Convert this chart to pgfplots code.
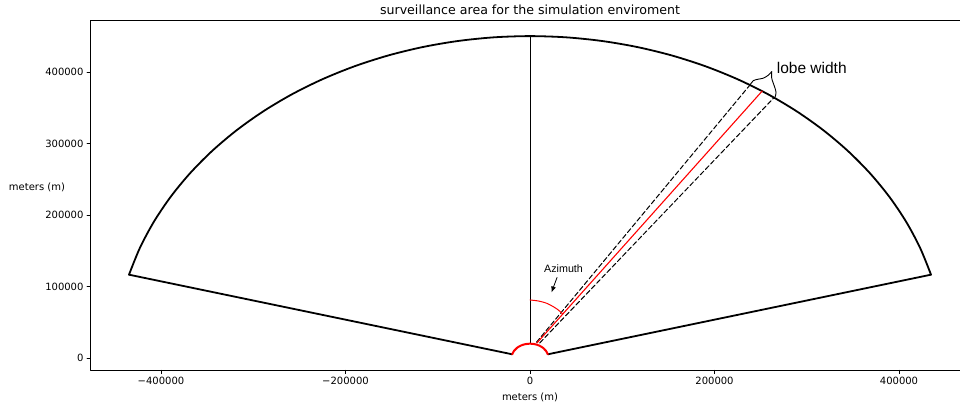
\documentclass[border=0pt]{standalone}
\usepackage{fontspec}
\setmainfont{DejaVu Sans}
\newfontfamily\arialfont{Liberation Sans}
\usepackage{pgfplots}
\pgfplotsset{compat=1.18}
\usetikzlibrary{arrows.meta}

\begin{document}
\begin{tikzpicture}
\useasboundingbox (0,0) rectangle (960bp,408bp);
\begin{axis}[
  at={(90.5bp,37.8bp)}, anchor=south west,
  scale only axis, width=879bp, height=350bp,
  xmin=-476400, xmax=476400, ymin=-17065, ymax=472241,
  scaled ticks=false,
  axis line style={line width=0.6bp},
  tick align=outside, xtick pos=bottom, ytick pos=left,
  major tick length=3.5bp,
  every tick/.style={black, line width=0.6bp},
  xtick={-400000,-200000,0,200000,400000},
  xticklabels={−400000,−200000,0,200000,400000},
  ytick={0,100000,200000,300000,400000},
  yticklabels={0,100000,200000,300000,400000},
  tick label style={font=\fontsize{10bp}{12bp}\selectfont},
  title={surveillance area for the simulation enviroment},
  every axis title/.style={at={(axis description cs:0.5,1.029)}, anchor=center,
    font=\fontsize{12.6bp}{15bp}\selectfont},
  xlabel={meters (m)},
  every axis x label/.style={at={(axis description cs:0.5,-0.0766)}, anchor=center,
    font=\fontsize{10bp}{12bp}\selectfont},
  ylabel={meters (m)},
  every axis y label/.style={at={(axis description cs:-0.0609,0.5234)}, anchor=center,
    font=\fontsize{10bp}{12bp}\selectfont},
  line join=round, line cap=round,
]
% sector edges
\addplot[black, line width=1.8bp] coordinates {(19319,5176) (434667,116469)};
\addplot[black, line width=1.8bp] coordinates {(-19319,5176) (-434667,116469)};
% outer boundary, radius 450 km, 15 to 165 degrees
\addplot[black, line width=1.8bp, smooth] coordinates {
  (434667,116469) (422862,153909) (407839,190178) (389711,225000)
  (368618,258109) (344720,289255) (318198,318198) (289255,344720)
  (258109,368618) (225000,389711) (190178,407839) (153909,422862)
  (116469,434667) (78142,443164) (39220,448288) (0,450000)
  (-39220,448288) (-78142,443164) (-116469,434667) (-153909,422862)
  (-190178,407839) (-225000,389711) (-258109,368618) (-289255,344720)
  (-318198,318198) (-344720,289255) (-368618,258109) (-389711,225000)
  (-407839,190178) (-422862,153909) (-434667,116469)};
% north reference line
\addplot[black, line width=0.8bp] coordinates {(0,20000) (0,450000)};
% lobe edges
\addplot[black, line width=1bp, dash pattern=on 5bp off 2.5bp] coordinates {(7000,22000) (238500,381800)};
\addplot[black, line width=1bp, dash pattern=on 5bp off 2.5bp] coordinates {(10500,21000) (264500,364000)};
% beam axis
\addplot[red, line width=1.1bp] coordinates {(7500,21000) (251600,373100)};
% azimuth angle
\addplot[red, line width=1bp, smooth] coordinates {
  (0,81100) (9000,79700) (18100,76500) (25300,71700) (30700,67100) (35400,61500)};
% radar site, radius 20 km
\addplot[red, line width=2bp, smooth] coordinates {
  (19319,5176) (17321,10000) (14142,14142) (10000,17321) (5176,19319) (0,20000)
  (-5176,19319) (-10000,17321) (-14142,14142) (-17321,10000) (-19319,5176)};
% brace over the lobe width
\addplot[black, line width=0.9bp, smooth] coordinates {
  (238500,381800) (242100,387800) (247500,389800) (252900,391200) (258000,395100) (262000,400400)};
\addplot[black, line width=0.9bp, smooth] coordinates {
  (262000,400400) (262000,391200) (263700,384200) (265600,377200) (266700,370600) (265600,364600)};
% annotations
\node[anchor=base west, inner sep=0pt, font=\arialfont\fontsize{15.5bp}{18bp}\selectfont]
  at (axis cs:267400,398200) {lobe width};
\node[anchor=base west, inner sep=0pt, font=\arialfont\fontsize{10.7bp}{13bp}\selectfont]
  at (axis cs:15200,119900) {Azimuth};
\draw[black, line width=0.8bp, -{Latex[length=6bp,width=5bp]}]
  (axis cs:29300,112600) -- (axis cs:23300,91600);
\end{axis}
\end{tikzpicture}
\end{document}
